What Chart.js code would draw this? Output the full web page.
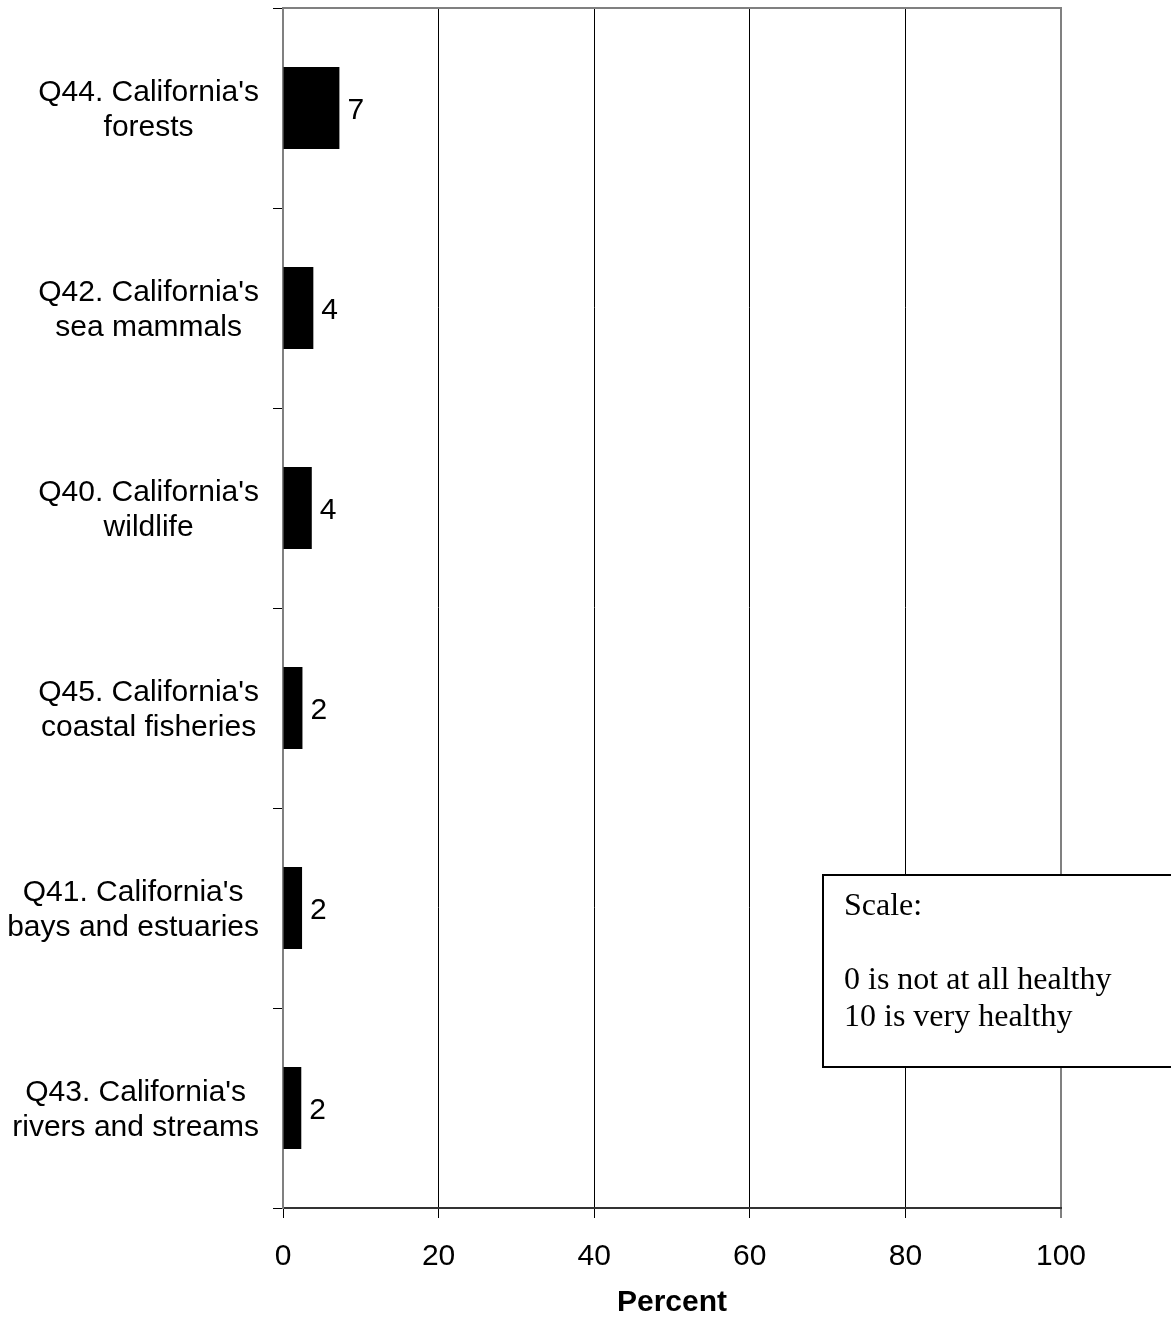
<!DOCTYPE html>
<html>
<head>
<meta charset="utf-8">
<script src="https://cdn.jsdelivr.net/npm/chart.js@4.4.1/dist/chart.umd.min.js"></script>
<style>
  html, body { margin: 0; padding: 0; background: #fff; }
  canvas { display: block; }
</style>
</head>
<body>
<canvas id="chart" width="1171" height="1319"></canvas>
<script>
// datos
const categorias = [
  ["Q44. California's", "forests"],
  ["Q42. California's", "sea mammals"],
  ["Q40. California's", "wildlife"],
  ["Q45. California's", "coastal fisheries"],
  ["Q41. California's", "bays and estuaries"],
  ["Q43. California's", "rivers and streams"]
];
const porcentajes = [7.25, 3.9, 3.7, 2.5, 2.45, 2.35];
const etiquetas = ["7", "4", "4", "2", "2", "2"];
const ticksX = [0, 20, 40, 60, 80, 100];
const notaEscala = ["Scale:", "", "0 is not at all healthy", "10 is very healthy"];

const SANS = "Liberation Sans, Arial, sans-serif";
const SERIF = "Liberation Serif, Times New Roman, serif";

// etiquetas de categoria: bloque alineado a la derecha, lineas centradas
const etiquetasCategoria = {
  id: "etiquetasCategoria",
  afterDraw(chart) {
    const { ctx, scales: { y } } = chart;
    ctx.save();
    ctx.font = "30px " + SANS;
    ctx.fillStyle = "#000";
    ctx.textAlign = "center";
    ctx.textBaseline = "middle";
    categorias.forEach((lineas, i) => {
      const ancho = Math.max(...lineas.map(l => ctx.measureText(l).width));
      const cx = 259 - ancho / 2;
      const cy = y.getPixelForValue(i) + 2;
      const alto = 35;
      lineas.forEach((l, k) => {
        ctx.fillText(l, cx, cy + (k - (lineas.length - 1) / 2) * alto);
      });
    });
    ctx.restore();
  }
};

// valores al final de cada barra
const valoresBarras = {
  id: "valoresBarras",
  afterDatasetsDraw(chart) {
    const { ctx, scales: { x, y } } = chart;
    ctx.save();
    ctx.font = "30px " + SANS;
    ctx.fillStyle = "#000";
    ctx.textAlign = "left";
    ctx.textBaseline = "middle";
    porcentajes.forEach((v, i) => {
      ctx.fillText(etiquetas[i], x.getPixelForValue(v) + 8, y.getPixelForValue(i) + 3);
    });
    ctx.restore();
  }
};

// borde superior gris y cuadro de la escala
const marcoYNota = {
  id: "marcoYNota",
  afterDraw(chart) {
    const { ctx, chartArea: a } = chart;
    ctx.save();
    ctx.strokeStyle = "#808080";
    ctx.lineWidth = 2;
    ctx.beginPath();
    ctx.moveTo(a.left, a.top);
    ctx.lineTo(a.right + 1, a.top);
    ctx.stroke();

    ctx.fillStyle = "#fff";
    ctx.fillRect(823, 875, 400, 192);
    ctx.strokeStyle = "#000";
    ctx.strokeRect(823, 875, 400, 192);

    ctx.fillStyle = "#000";
    ctx.font = "32px " + SERIF;
    ctx.textAlign = "left";
    ctx.textBaseline = "alphabetic";
    notaEscala.forEach((t, k) => {
      ctx.fillText(t, 844, 915 + k * 37);
    });
    ctx.restore();
  }
};

new Chart(document.getElementById("chart"), {
  type: "bar",
  data: {
    labels: categorias,
    datasets: [{
      data: porcentajes,
      backgroundColor: "#000",
      borderWidth: 0,
      barPercentage: 0.41,
      categoryPercentage: 1
    }]
  },
  options: {
    indexAxis: "y",
    responsive: false,
    animation: false,
    devicePixelRatio: 1,
    layout: { padding: { top: 8, right: 110, left: 0, bottom: 0 } },
    plugins: { legend: { display: false }, tooltip: { enabled: false } },
    scales: {
      x: {
        min: 0,
        max: 100,
        afterFit: s => { s.height = 111; },
        afterBuildTicks: s => { s.ticks = ticksX.map(v => ({ value: v })); },
        ticks: { color: "#000", font: { family: SANS, size: 30 }, padding: 21 },
        grid: {
          color: c => (c.tick && c.tick.value === 100 ? "#808080" : "#000"),
          lineWidth: c => (c.tick && c.tick.value === 100 ? 2 : 1),
          tickColor: "#000",
          tickWidth: 1,
          tickLength: 10
        },
        border: { color: "#333", width: 2 },
        title: {
          display: true,
          text: "Percent",
          color: "#000",
          font: { family: SANS, size: 30, weight: "bold", lineHeight: 1.2 },
          padding: { top: 0, bottom: -2 }
        }
      },
      y: {
        afterFit: s => { s.width = 283; },
        ticks: { display: false },
        grid: {
          drawOnChartArea: false,
          color: "#000",
          tickLength: 10,
          lineWidth: 1
        },
        border: { color: "#808080", width: 2 }
      }
    }
  },
  plugins: [etiquetasCategoria, valoresBarras, marcoYNota]
});
</script>
</body>
</html>
